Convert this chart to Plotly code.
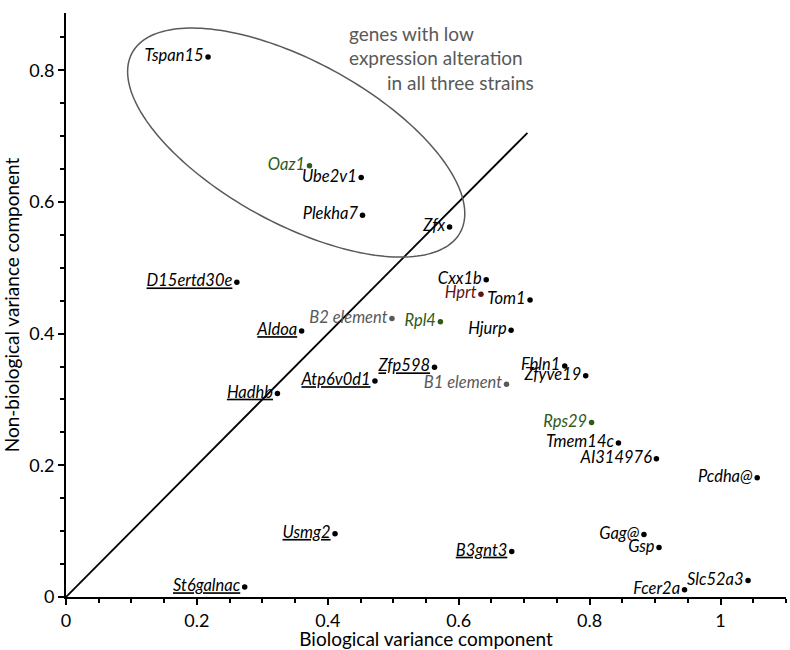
import numpy as np
import plotly.graph_objects as go

# ---- data ----
genes = ["Tspan15", "Oaz1", "Ube2v1", "Plekha7", "Zfx", "D15ertd30e", "Cxx1b", "Hprt",
         "Tom1", "B2 element", "Rpl4", "Aldoa", "Hjurp", "Zfp598", "Fbln1", "Zfyve19",
         "Atp6v0d1", "B1 element", "Hadhb", "Rps29", "Tmem14c", "AI314976", "Pcdha@",
         "Usmg2", "Gag@", "Gsp", "B3gnt3", "St6galnac", "Slc52a3", "Fcer2a"]
biological = [0.217, 0.372, 0.451, 0.453, 0.586, 0.261, 0.642, 0.634,
              0.709, 0.498, 0.572, 0.360, 0.680, 0.563, 0.762, 0.794,
              0.472, 0.673, 0.323, 0.803, 0.844, 0.902, 1.056,
              0.411, 0.883, 0.906, 0.681, 0.273, 1.042, 0.945]
non_biological = [0.820, 0.655, 0.637, 0.580, 0.562, 0.478, 0.482, 0.460,
                  0.451, 0.423, 0.418, 0.404, 0.405, 0.349, 0.351, 0.336,
                  0.328, 0.323, 0.309, 0.265, 0.234, 0.210, 0.181,
                  0.096, 0.095, 0.075, 0.069, 0.015, 0.025, 0.011]
gene_group = ["gene", "reference", "gene", "gene", "gene", "gene", "gene", "hprt",
              "gene", "element", "reference", "gene", "gene", "gene", "gene", "gene",
              "gene", "element", "gene", "reference", "gene", "gene", "gene",
              "gene", "gene", "gene", "gene", "gene", "gene", "gene"]
underlined = ["D15ertd30e", "Aldoa", "Hadhb", "Atp6v0d1", "Zfp598", "Usmg2", "B3gnt3", "St6galnac"]

x_ticks = [0, 0.2, 0.4, 0.6, 0.8, 1]
y_ticks = [0, 0.2, 0.4, 0.6, 0.8]
diagonal_end = 0.705
note_lines = ["genes with low", "expression alteration", "in all three strains"]

# ---- styling ----
group_color = {"gene": "#000000", "reference": "#2f5a17", "hprt": "#5e1515", "element": "#595959"}
colors = [group_color[g] for g in gene_group]
labels = [f"<i><u>{g}</u></i>" if g in underlined else f"<i>{g}</i>" for g in genes]

FONT = "Lato, 'Open Sans', sans-serif"

fig = go.Figure()
fig.add_trace(go.Scatter(
    x=biological, y=non_biological, mode="markers+text",
    marker=dict(size=5.5, color=colors),
    text=labels, textposition="middle left",
    textfont=dict(family=FONT, size=16.5, color=colors),
    cliponaxis=False, showlegend=False, hoverinfo="skip"))

# diagonal y = x
fig.add_shape(type="line", x0=0, y0=0, x1=diagonal_end, y1=diagonal_end,
              line=dict(color="black", width=1.8), layer="below")

# ellipse (rotated), defined in pixel-like units then converted to data
px_per_x, px_per_y = 654.5, 658.4
cx, cy = 0.3517, 0.6902
a_px, b_px, theta = 187, 81, np.deg2rad(28.7)
t = np.linspace(0, 2 * np.pi, 200)
dx = a_px * np.cos(t) * np.cos(theta) - b_px * np.sin(t) * np.sin(theta)
dy = -(a_px * np.cos(t) * np.sin(theta) + b_px * np.sin(t) * np.cos(theta))
ex = cx + dx / px_per_x
ey = cy + dy / px_per_y
path = "M " + " L ".join(f"{xx:.5f},{yy:.5f}" for xx, yy in zip(ex, ey)) + " Z"
fig.add_shape(type="path", path=path, line=dict(color="#595959", width=1.5), layer="below")

note_pos = [(0.430, 0.856), (0.430, 0.819), (0.487, 0.782)]
for line, (nx, ny) in zip(note_lines, note_pos):
    fig.add_annotation(x=nx, y=ny, text=line, showarrow=False, xanchor="left", yanchor="middle",
                       font=dict(family=FONT, size=19, color="#595959"))

axis_common = dict(showline=True, linecolor="black", linewidth=2, ticks="outside",
                   ticklen=6, tickwidth=1.5, tickcolor="black", showgrid=False, zeroline=False,
                   automargin=False,
                   tickfont=dict(family=FONT, size=18, color="black"),
                   minor=dict(ticks="outside", ticklen=4, tickwidth=1.5, tickcolor="black", dtick=0.05, showgrid=False))

fig.update_xaxes(range=[0, 1.1], tickvals=x_ticks, ticktext=[f"{v:g}" for v in x_ticks],
                 title=dict(text="Biological variance component", font=dict(family=FONT, size=19, color="black"), standoff=5),
                 **axis_common)
fig.update_yaxes(range=[0, 0.887], tickvals=y_ticks, ticktext=[f"{v:g}" for v in y_ticks],
                 title=dict(text="Non-biological variance component", font=dict(family=FONT, size=19, color="black"), standoff=8),
                 **axis_common)

fig.update_layout(width=790, height=650, margin=dict(l=66, r=4, t=13, b=53),
                  plot_bgcolor="white", paper_bgcolor="white")
fig.write_html("out.html", config={"displayModeBar": False},
               post_script="document.body.style.margin='0';")
